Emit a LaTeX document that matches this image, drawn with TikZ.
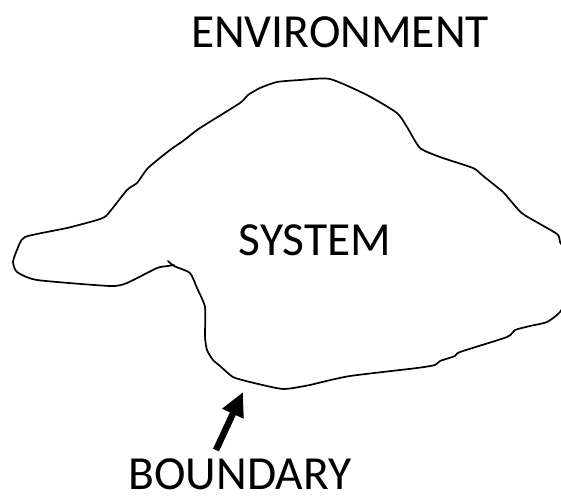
\documentclass[tikz,border=0pt]{standalone}
\usepackage{fontspec}
\setmainfont{Carlito}
\usetikzlibrary{arrows.meta}
\tikzset{
  lbl/.style={font=\fontsize{47.5}{57}\selectfont, inner sep=0pt, anchor=center},
  blobline/.style={line width=1.7pt, line join=round, line cap=round},
  pointer/.style={line width=6.5pt, -{Triangle[length=24pt,width=22pt]}}
}
\begin{document}
\begin{tikzpicture}[x=1pt,y=-1pt]
\useasboundingbox (0,0) rectangle (561,495);
\begin{scope}
\clip (0,0) rectangle (561,495);
\draw[blobline] plot[smooth, tension=0.35] coordinates {
(168,261) (174,266) (190,273) (197,288) (205,307) (205,337) (207,350) (213,360)
(220,366) (233,377) (250,382) (283,389) (310,385) (318,383) (350,376) (417,368)
(435,365) (440,361) (455,356) (460,352) (507,337) (515,330) (530,326) (547,322)
(560,312) (572,290) (572,262) (560,242) (557,234) (523,214) (510,200) (503,192)
(482,175) (473,168) (440,157) (420,148) (407,127) (397,113) (367,95) (330,79)
(300,80) (277,82) (260,88) (248,95) (240,103) (200,128) (183,141) (170,150)
(148,168) (137,183) (127,190) (107,215) (97,220) (67,228) (25,237) (17,250)
(13,262) (17,272) (37,280) (110,286) (127,283) (157,268) (168,266) (174,265)};
\end{scope}
\node[lbl] (env) at (340,32) {ENVIRONMENT};
\node[lbl] (sys) at (315,240) {SYSTEM};
\node[lbl] (bnd) at (240,474) {BOUNDARY};
\coordinate (tail) at (216,450);
\coordinate (tip) at (243,392);
\draw[pointer] (tail) -- (tip);
\end{tikzpicture}
\end{document}
